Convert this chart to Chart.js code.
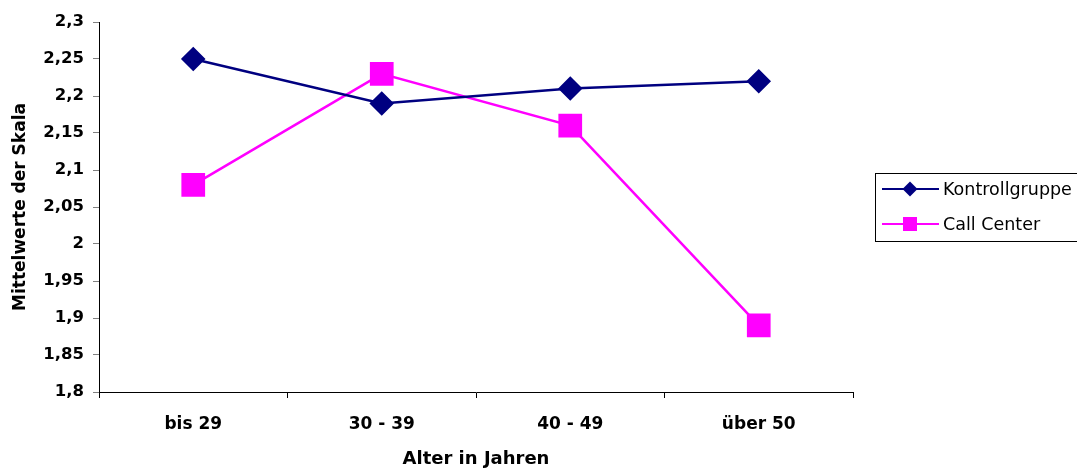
<!DOCTYPE html>
<html>
<head>
<meta charset="utf-8">
<script src="https://cdn.jsdelivr.net/npm/chart.js@4/dist/chart.umd.min.js"></script>
<style>
  html, body { margin: 0; padding: 0; background: #fff; }
  #wrap { width: 1077px; height: 468px; }
</style>
</head>
<body>
<div id="wrap"><canvas id="ageChart" width="1077" height="468"></canvas></div>
<script>
// data
const categories = ['bis 29', '30 - 39', '40 - 49', 'über 50'];
const kontrollgruppe = [2.25, 2.19, 2.21, 2.22];
const callCenter = [2.08, 2.23, 2.16, 1.89];
const yMin = 1.8, yMax = 2.3, yStep = 0.05;

const FONT = 'DejaVu Sans, Arial, sans-serif';

function formatComma(v) {
    return String(Math.round(v * 100) / 100).replace('.', ',');
}

// legend box like the old Excel one: line + marker + label, framed
const boxLegend = {
    id: 'boxLegend',
    afterDraw(chart) {
        var ctx = chart.ctx;
        var x = 875, y = 173, w = 210, h = 68;
        ctx.save();
        ctx.strokeStyle = '#000';
        ctx.lineWidth = 1;
        ctx.strokeRect(x + 0.5, y + 0.5, w, h);
        ctx.font = '17.5px ' + FONT;
        ctx.textBaseline = 'middle';
        chart.data.datasets.forEach((ds, i) => {
            var cy = y + 16 + i * 35;
            ctx.strokeStyle = ds.borderColor;
            ctx.lineWidth = 2;
            ctx.beginPath();
            ctx.moveTo(882, cy);
            ctx.lineTo(939, cy);
            ctx.stroke();
            ctx.fillStyle = ds.backgroundColor;
            if (ds.pointStyle === 'rectRot') {
                ctx.beginPath();
                ctx.moveTo(910, cy - 7.5);
                ctx.lineTo(917.5, cy);
                ctx.lineTo(910, cy + 7.5);
                ctx.lineTo(902.5, cy);
                ctx.closePath();
                ctx.fill();
            } else {
                ctx.fillRect(903, cy - 7, 14, 14);
            }
            ctx.fillStyle = '#000';
            ctx.fillText(ds.label, 943, cy + 1);
        });
        ctx.restore();
    }
};

var ctx = document.getElementById('ageChart').getContext('2d');
var ageChart = new Chart(ctx, {
    type: 'line',
    data: {
        labels: categories,
        datasets: [{
            label: 'Kontrollgruppe',
            data: kontrollgruppe,
            borderColor: '#000080',
            backgroundColor: '#000080',
            borderWidth: 2.5,
            pointStyle: 'rectRot',
            pointRadius: 10.5,
            pointHoverRadius: 10.5,
            tension: 0
        }, {
            label: 'Call Center',
            data: callCenter,
            borderColor: '#ff00ff',
            backgroundColor: '#ff00ff',
            borderWidth: 2.5,
            pointStyle: 'rect',
            pointRadius: 15,
            pointHoverRadius: 15,
            tension: 0
        }]
    },
    options: {
        responsive: false,
        animation: false,
        layout: { padding: { top: 22, right: 224, left: 0, bottom: 0 } },
        plugins: {
            legend: { display: false },
            tooltip: { enabled: false }
        },
        scales: {
            x: {
                offset: true,
                grid: {
                    offset: true,
                    drawOnChartArea: false,
                    drawTicks: true,
                    tickLength: 6,
                    color: '#000'
                },
                border: { color: '#000', width: 1 },
                ticks: {
                    color: '#000',
                    font: { family: FONT, size: 17, weight: 'bold' },
                    padding: 16,
                    maxRotation: 0
                },
                title: {
                    display: true,
                    text: 'Alter in Jahren',
                    color: '#000',
                    font: { family: FONT, size: 18, weight: 'bold', lineHeight: 1 },
                    padding: { top: 10, bottom: 0 }
                },
                afterFit: function(scale) { scale.height = 76; }
            },
            y: {
                min: yMin,
                max: yMax,
                grid: {
                    drawOnChartArea: false,
                    drawTicks: true,
                    tickLength: 6,
                    color: '#808080'
                },
                border: { color: '#000', width: 1 },
                ticks: {
                    stepSize: yStep,
                    color: '#000',
                    font: { family: FONT, size: 16.5, weight: 'bold' },
                    padding: 9,
                    callback: function(value) { return formatComma(value); }
                },
                title: {
                    display: true,
                    text: 'Mittelwerte der Skala',
                    color: '#000',
                    font: { family: FONT, size: 17, weight: 'bold' },
                    padding: { top: 10, bottom: 0 }
                },
                afterFit: function(scale) { scale.width = 99; }
            }
        }
    },
    plugins: [boxLegend]
});
</script>
</body>
</html>
